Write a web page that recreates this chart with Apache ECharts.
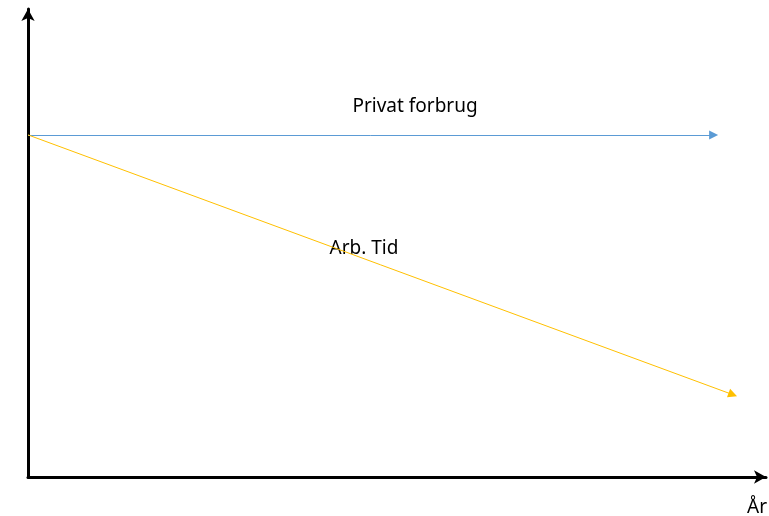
<!DOCTYPE html>
<html>
<head>
<meta charset="utf-8">
<script src="https://cdn.jsdelivr.net/npm/echarts@6/dist/echarts.min.js"></script>
<style>
html,body{margin:0;padding:0;background:#fff;}
#chart{width:769px;height:516px;}
</style>
</head>
<body>
<div id="chart"></div>
<script>
// Conceptual chart: values in arbitrary units (0-100)
var seriesNames = ['Privat forbrug', 'Arb. Tid'];
var privatForbrug = [[0, 73.1], [92.9, 73.1]];
var arbTid = [[0, 73.1], [95.5, 17.6]];
var xAxisName = 'År';

var chart = echarts.init(document.getElementById('chart'));
var font = '"Noto Sans", sans-serif';
chart.setOption({
  backgroundColor: '#ffffff',
  animation: false,
  grid: {left: 28, right: 3, top: 9, bottom: 39},
  xAxis: {
    type: 'value', min: 0, max: 100,
    axisLine: {show: true, symbol: ['none', 'arrow'], symbolSize: [10, 12], lineStyle: {color: '#000', width: 3}},
    axisTick: {show: false}, axisLabel: {show: false}, splitLine: {show: false}
  },
  yAxis: {
    type: 'value', min: 0, max: 100,
    axisLine: {show: true, symbol: ['none', 'arrow'], symbolSize: [10, 12], lineStyle: {color: '#000', width: 3}},
    axisTick: {show: false}, axisLabel: {show: false}, splitLine: {show: false}
  },
  series: [
    {
      name: seriesNames[0], type: 'lines', coordinateSystem: 'cartesian2d',
      symbol: ['none', 'triangle'], symbolSize: 9,
      lineStyle: {color: '#5B9BD5', width: 1, opacity: 1},
      itemStyle: {color: '#5B9BD5'},
      data: [{coords: privatForbrug}]
    },
    {
      name: seriesNames[1], type: 'lines', coordinateSystem: 'cartesian2d',
      symbol: ['none', 'triangle'], symbolSize: 9,
      lineStyle: {color: '#FFC000', width: 1, opacity: 1},
      itemStyle: {color: '#FFC000'},
      data: [{coords: arbTid}]
    }
  ],
  graphic: [
    {type: 'text', x: 415, y: 107, style: {text: seriesNames[0], font: '19px ' + font, fill: '#000', textAlign: 'center', textVerticalAlign: 'middle'}},
    {type: 'text', x: 364, y: 249, style: {text: seriesNames[1], font: '19px ' + font, fill: '#000', textAlign: 'center', textVerticalAlign: 'middle'}},
    {type: 'text', x: 757, y: 508, style: {text: xAxisName, font: '19px ' + font, fill: '#000', textAlign: 'center', textVerticalAlign: 'middle'}}
  ]
});
</script>
</body>
</html>
